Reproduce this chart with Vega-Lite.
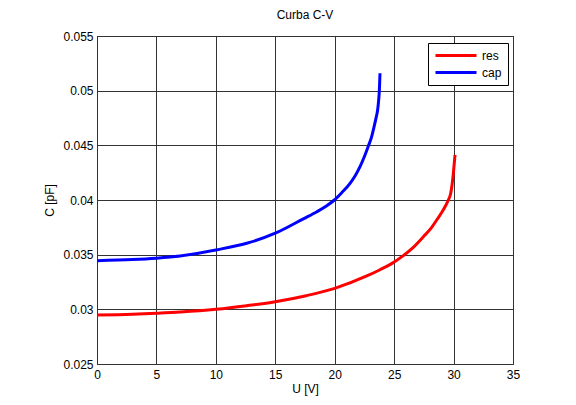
{
  "$schema": "https://vega.github.io/schema/vega-lite/v6.json",
  "autosize": {"type": "none"},
  "width": 416,
  "height": 328,
  "padding": {"left": 97, "top": 36, "right": 63, "bottom": 41},
  "background": "white",
  "title": {
    "text": "Curba C-V",
    "fontSize": 12,
    "fontWeight": "normal",
    "font": "Liberation Sans",
    "color": "black",
    "offset": 8
  },
  "data": {
    "values": [
      {"U": 0, "C": 0.02948, "serie": "res"},
      {"U": 3, "C": 0.02955, "serie": "res"},
      {"U": 5, "C": 0.02964, "serie": "res"},
      {"U": 7, "C": 0.02975, "serie": "res"},
      {"U": 10, "C": 0.03, "serie": "res"},
      {"U": 12.6, "C": 0.03033, "serie": "res"},
      {"U": 15, "C": 0.0307, "serie": "res"},
      {"U": 17.6, "C": 0.03125, "serie": "res"},
      {"U": 20, "C": 0.03192, "serie": "res"},
      {"U": 22.7, "C": 0.03305, "serie": "res"},
      {"U": 23.81, "C": 0.03362, "serie": "res"},
      {"U": 24.79, "C": 0.03418, "serie": "res"},
      {"U": 25.77, "C": 0.03491, "serie": "res"},
      {"U": 26.61, "C": 0.03567, "serie": "res"},
      {"U": 27.46, "C": 0.03664, "serie": "res"},
      {"U": 28.16, "C": 0.0375, "serie": "res"},
      {"U": 28.58, "C": 0.03817, "serie": "res"},
      {"U": 29.0, "C": 0.03885, "serie": "res"},
      {"U": 29.36, "C": 0.03954, "serie": "res"},
      {"U": 29.56, "C": 0.04, "serie": "res"},
      {"U": 29.76, "C": 0.04061, "serie": "res"},
      {"U": 29.87, "C": 0.04137, "serie": "res"},
      {"U": 29.98, "C": 0.04244, "serie": "res"},
      {"U": 30.06, "C": 0.04336, "serie": "res"},
      {"U": 30.12, "C": 0.04412, "serie": "res"},
      {"U": 0, "C": 0.03445, "serie": "cap"},
      {"U": 3, "C": 0.03455, "serie": "cap"},
      {"U": 5, "C": 0.03468, "serie": "cap"},
      {"U": 7, "C": 0.03488, "serie": "cap"},
      {"U": 10, "C": 0.03543, "serie": "cap"},
      {"U": 12.6, "C": 0.03604, "serie": "cap"},
      {"U": 15, "C": 0.03696, "serie": "cap"},
      {"U": 17.4, "C": 0.0383, "serie": "cap"},
      {"U": 18.5, "C": 0.03893, "serie": "cap"},
      {"U": 19.3, "C": 0.03945, "serie": "cap"},
      {"U": 19.97, "C": 0.04, "serie": "cap"},
      {"U": 20.59, "C": 0.04067, "serie": "cap"},
      {"U": 21.29, "C": 0.04153, "serie": "cap"},
      {"U": 21.71, "C": 0.0422, "serie": "cap"},
      {"U": 22.13, "C": 0.04305, "serie": "cap"},
      {"U": 22.49, "C": 0.04396, "serie": "cap"},
      {"U": 22.83, "C": 0.04494, "serie": "cap"},
      {"U": 23.11, "C": 0.04579, "serie": "cap"},
      {"U": 23.3, "C": 0.04665, "serie": "cap"},
      {"U": 23.47, "C": 0.04747, "serie": "cap"},
      {"U": 23.61, "C": 0.04823, "serie": "cap"},
      {"U": 23.7, "C": 0.04915, "serie": "cap"},
      {"U": 23.75, "C": 0.04991, "serie": "cap"},
      {"U": 23.81, "C": 0.05159, "serie": "cap"}
    ]
  },
  "mark": {"type": "line", "strokeWidth": 3, "interpolate": "monotone", "clip": true},
  "encoding": {
    "x": {
      "field": "U",
      "type": "quantitative",
      "scale": {"domain": [0, 35], "nice": false, "zero": false},
      "axis": {
        "title": "U [V]",
        "values": [0, 5, 10, 15, 20, 25, 30, 35],
        "format": "d",
        "ticks": false,
        "labelFlush": false,
        "labelPadding": 5,
        "titlePadding": 3
      }
    },
    "y": {
      "field": "C",
      "type": "quantitative",
      "scale": {"domain": [0.025, 0.055], "nice": false, "zero": false},
      "axis": {
        "title": "C [pF]",
        "values": [0.025, 0.03, 0.035, 0.04, 0.045, 0.05, 0.055],
        "format": "~g",
        "ticks": false,
        "labelFlush": false,
        "labelPadding": 4,
        "titlePadding": 6
      }
    },
    "color": {
      "field": "serie",
      "type": "nominal",
      "scale": {"domain": ["res", "cap"], "range": ["#ff0000", "#0000ff"]},
      "legend": {
        "title": null,
        "orient": "none",
        "legendX": 331,
        "legendY": 7,
        "symbolType": "M-1,0H7.2",
        "symbolSize": 100,
        "symbolStrokeWidth": 3,
        "labelOffset": 35,
        "padding": 6,
        "rowPadding": 4,
        "strokeColor": "black",
        "fillColor": "white"
      }
    }
  },
  "config": {
    "font": "Liberation Sans",
    "view": {"stroke": "black", "strokeWidth": 1},
    "axis": {
      "domain": false,
      "grid": true,
      "gridColor": "#333333",
      "gridOpacity": 1,
      "gridWidth": 1,
      "labelFont": "Liberation Sans",
      "labelFontSize": 12,
      "labelColor": "black",
      "titleFont": "Liberation Sans",
      "titleFontSize": 12,
      "titleFontWeight": "normal",
      "titleColor": "black"
    },
    "legend": {
      "labelFont": "Liberation Sans",
      "labelFontSize": 12,
      "labelColor": "black"
    }
  }
}
